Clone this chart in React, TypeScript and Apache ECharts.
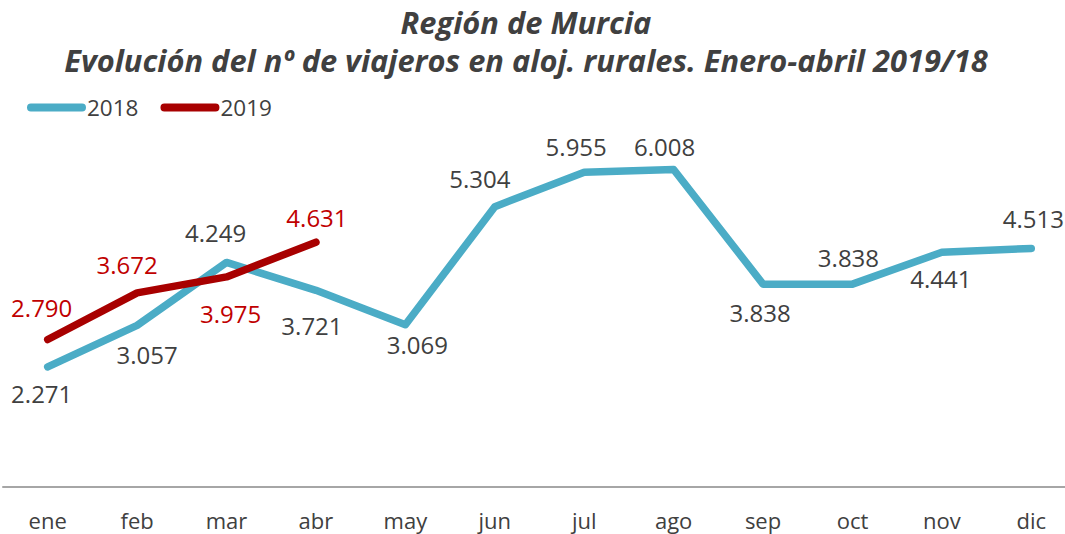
import React, { useEffect, useRef } from "react";
import * as echarts from "echarts";

const months = ["ene", "feb", "mar", "abr", "may", "jun", "jul", "ago", "sep", "oct", "nov", "dic"];
const v2018 = [2271, 3057, 4249, 3721, 3069, 5304, 5955, 6008, 3838, 3838, 4441, 4513];
const v2019 = [2790, 3672, 3975, 4631];

// label placement (style only)
const pos2018 = ["bottom", "bottom", "top", "bottom", "bottom", "top", "top", "top", "bottom", "top", "bottom", "top"];
const pos2019 = ["top", "top", "bottom", "top"];
const off2018 = [[-6, 2], [10, 5], [-11, -6], [-4, 11], [12, -4], [-15, -4], [-8, -2], [-9, 1], [-3, 4], [-4, -3], [-1, 2], [2, -6]];
const off2019 = [[-6, -8], [-10, -4], [4, 13], [1, -1]];

const fmt = (n: number) => {
  const s = String(n);
  return s.length > 3 ? s.slice(0, s.length - 3) + "." + s.slice(s.length - 3) : s;
};

const FONT = "'Open Sans', sans-serif";
const BLUE = "#4BACC6";
const RED = "#A80000";

export default function App() {
  const ref = useRef<HTMLDivElement>(null);
  useEffect(() => {
    if (!ref.current) return;
    const chart = echarts.init(ref.current, undefined, { renderer: "svg" });
    const mk = (vals: number[], posArr: string[], offArr: number[][]) =>
      vals.map((v, i) => ({
        value: v,
        label: { show: true, position: posArr[i], distance: 12, offset: offArr[i] },
      }));
    const titleStyle = {
      fontFamily: FONT,
      fontWeight: "bold",
      fontStyle: "italic",
      fontSize: 30.8,
      lineHeight: 32,
      color: "#404040",
    };
    chart.setOption({
      animation: false,
      backgroundColor: "#ffffff",
      title: {
        text: "Región de Murcia",
        subtext: "Evolución del nº de viajeros en aloj. rurales. Enero-abril 2019/18",
        left: 526,
        textAlign: "center",
        top: 6,
        itemGap: 6,
        padding: 0,
        textStyle: titleStyle,
        subtextStyle: titleStyle,
      },
      legend: {
        left: 22,
        top: 91,
        itemWidth: 59,
        itemHeight: 8,
        itemGap: 22,
        icon: "path://M4,0 H56 A4,4 0 0 1 56,8 H4 A4,4 0 0 1 4,0 Z",
        textStyle: { fontFamily: FONT, fontSize: 22.5, color: "#404040", padding: [0, 0, 0, -4] },
        data: [
          { name: "2018", itemStyle: { color: BLUE, opacity: 1 } },
          { name: "2019", itemStyle: { color: RED, opacity: 1 } },
        ],
      },
      grid: { left: 3, right: 0, top: 117, bottom: 47, containLabel: false },
      xAxis: {
        type: "category",
        data: months,
        boundaryGap: true,
        axisLine: { lineStyle: { color: "#a6a6a6", width: 2 } },
        axisTick: { show: false },
        axisLabel: { fontFamily: FONT, fontSize: 22, color: "#404040", margin: 22 },
      },
      yAxis: {
        type: "value",
        min: 0,
        max: 7000,
        interval: 1000,
        show: false,
        splitLine: { show: false },
      },
      series: [
        {
          name: "2018",
          type: "line",
          data: mk(v2018, pos2018, off2018),
          symbol: "circle",
          symbolSize: 0.1,
          showSymbol: true,
          itemStyle: { color: BLUE },
          color: BLUE,
          lineStyle: { width: 7.5, color: BLUE, cap: "round", join: "round" },
          label: {
            show: true,
            fontFamily: FONT,
            fontSize: 24,
            color: "#404040",
            formatter: (p: any) => fmt(p.value),
          },
          z: 2,
        },
        {
          name: "2019",
          type: "line",
          data: mk(v2019, pos2019, off2019),
          symbol: "circle",
          symbolSize: 0.1,
          showSymbol: true,
          itemStyle: { color: RED },
          color: RED,
          lineStyle: { width: 7.5, color: RED, cap: "round", join: "round" },
          label: {
            show: true,
            fontFamily: FONT,
            fontSize: 24,
            color: "#C00000",
            formatter: (p: any) => fmt(p.value),
          },
          z: 3,
        },
      ],
    });
    return () => chart.dispose();
  }, []);
  return (
    <div style={{ position: "absolute", left: 0, top: 0, width: 1065, height: 534, overflow: "hidden" }}>
      <div ref={ref} style={{ width: 1076, height: 534 }} />
    </div>
  );
}
